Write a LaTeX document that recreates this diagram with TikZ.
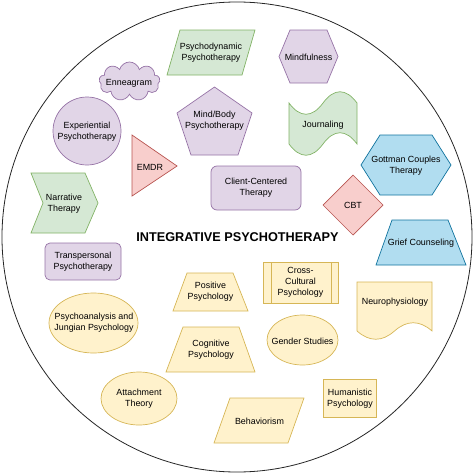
\documentclass[tikz,border=0pt]{standalone}
\usepackage{fontspec}
\setmainfont{Liberation Sans}
\usetikzlibrary{shapes.symbols}
\definecolor{purpfill}{HTML}{E1D5E7}
\definecolor{purpline}{HTML}{9673A6}
\definecolor{grnfill}{HTML}{D5E8D4}
\definecolor{grnline}{HTML}{82B366}
\definecolor{redfill}{HTML}{F8CECC}
\definecolor{redline}{HTML}{B85450}
\definecolor{blufill}{HTML}{B1DDF0}
\definecolor{bluline}{HTML}{10739E}
\definecolor{yelfill}{HTML}{FFF2CC}
\definecolor{yelline}{HTML}{D6B656}
\begin{document}
\begin{tikzpicture}[x=1pt,y=-1pt,
  purp/.style={fill=purpfill,draw=purpline,line width=0.7pt},
  grn/.style={fill=grnfill,draw=grnline,line width=0.7pt},
  rd/.style={fill=redfill,draw=redline,line width=0.7pt},
  blu/.style={fill=blufill,draw=bluline,line width=0.7pt},
  yel/.style={fill=yelfill,draw=yelline,line width=0.7pt},
  txt/.style={font=\fontsize{8.9}{11}\selectfont,align=center,inner sep=0pt},
  ttl/.style={font=\fontsize{12.7}{15}\selectfont\bfseries,inner sep=0pt}]
\useasboundingbox (0,0) rectangle (474,474);
\draw[line width=0.8pt,black!85] (237,237) circle (235pt);

\draw[grn] (180,30) -- (255,30) -- (242,75) -- (167,75) -- cycle;
\node[txt] (PD) at (211,53) {Psychodynamic\\Psychotherapy};
\draw[purp] (279,56.5) -- (290,30) -- (327,30) -- (338,56.5) -- (327,83) -- (290,83) -- cycle;
\node[txt] (MF) at (308.5,57) {Mindfulness};
\node[cloud,purp,cloud puffs=9,cloud ignores aspect,minimum width=61pt,minimum height=39pt,inner sep=0pt] (ENc) at (129.5,81.5) {};
\node[txt] (EN) at (129,83) {Enneagram};
\draw[purp] (87,131) circle (34pt);
\node[txt] (EP) at (87,132) {Experiential\\Psychotherapy};
\draw[purp] (214.5,87) -- (252,113) -- (238,155) -- (191,155) -- (177,113) -- cycle;
\node[txt] (MB) at (214.5,121) {Mind/Body\\Psychotherapy};
\draw[grn] (289,103) .. controls (300,118) and (312,118) .. (323,103) .. controls (334,88) and (346,88) .. (357,103)
  -- (357,144) .. controls (346,129) and (334,129) .. (323,144) .. controls (312,159) and (300,159) .. (289,144) -- cycle;
\node[txt] (JO) at (323,125) {Journaling};
\draw[rd] (132,135) -- (177,166) -- (132,196) -- cycle;
\node[txt] (EM) at (150,167) {EMDR};
\draw[purp,rounded corners=6pt] (211,166) rectangle (301,210);
\node[txt] (CC) at (256,188) {Client-Centered\\Therapy};
\draw[blu] (361,165) -- (380,135) -- (432,135) -- (451,165) -- (432,195) -- (380,195) -- cycle;
\node[txt] (GC) at (406,166) {Gottman Couples\\Therapy};
\draw[rd] (353,175) -- (383,205) -- (353,235) -- (323,205) -- cycle;
\node[txt] (CBT) at (353,205) {CBT};
\draw[blu] (392,220) -- (448,220) -- (466,265) -- (376,265) -- cycle;
\node[txt] (GR) at (421,243) {Grief Counseling};
\draw[grn] (31,173) -- (85,173) -- (98,203) -- (85,233) -- (31,233) -- (43,203) -- cycle;
\node[txt] (NT) at (64,203.5) {Narrative\\Therapy};

\node[ttl] (T) at (237.5,237) {INTEGRATIVE PSYCHOTHERAPY};

\draw[purp,rounded corners=5pt] (45,243) rectangle (121,280);
\node[txt] (TP) at (83,262) {Transpersonal\\Psychotherapy};
\draw[yel] (187,273) -- (233,273) -- (248,311) -- (173,311) -- cycle;
\node[txt] (PP) at (210.5,292) {Positive\\Psychology};
\draw[yel] (263,262) rectangle (338,303);
\draw[yel] (271,262) -- (271,303) (331,262) -- (331,303);
\node[txt] (CCP) at (300.5,282.5) {Cross-\\Cultural\\Psychology};
\draw[yel] (357,282) -- (432,282) -- (432,331) .. controls (419.5,320) and (407,320) .. (394.5,331)
  .. controls (382,342) and (369.5,342) .. (357,331) -- cycle;
\node[txt] (NP) at (395,302) {Neurophysiology};
\draw[yel] (93.5,323) ellipse (44.5pt and 30pt);
\node[txt] (PJ) at (94,323) {Psychoanalysis and\\Jungian Psychology};
\draw[yel] (183,327) -- (239,327) -- (255,372) -- (166,372) -- cycle;
\node[txt] (CP) at (211,350) {Cognitive\\Psychology};
\draw[yel] (302.5,340) ellipse (35.5pt and 25pt);
\node[txt] (GS) at (302.5,341) {Gender Studies};
\draw[yel] (139,398.5) ellipse (38pt and 26.5pt);
\node[txt] (AT) at (139,398.5) {Attachment\\Theory};
\draw[yel] (323,379) rectangle (376,417);
\node[txt] (HP) at (350,398.5) {Humanistic\\Psychology};
\draw[yel] (230,398) -- (304,398) -- (288,443) -- (214,443) -- cycle;
\node[txt] (BH) at (259.5,421) {Behaviorism};
\end{tikzpicture}
\end{document}
